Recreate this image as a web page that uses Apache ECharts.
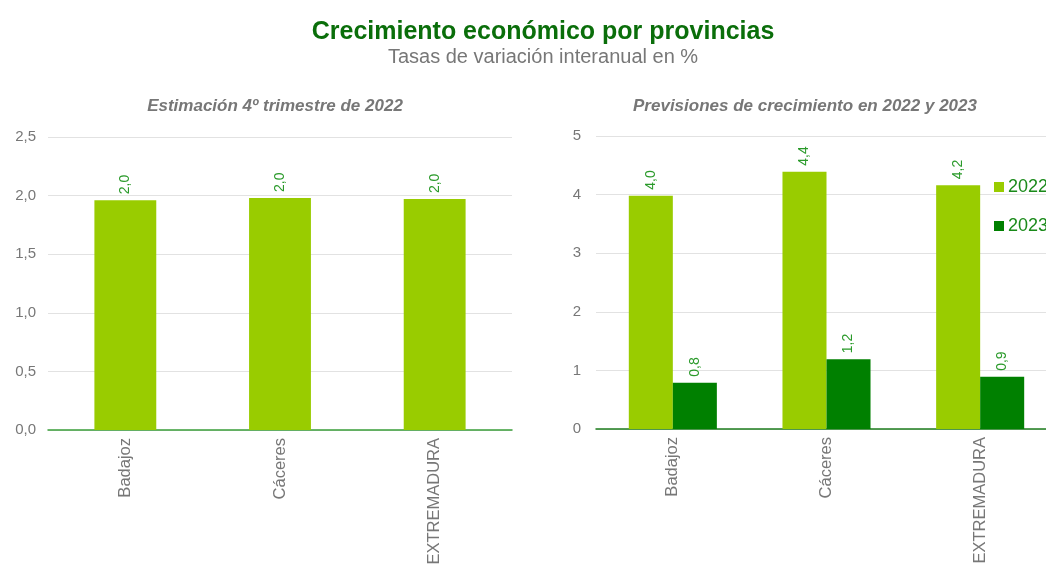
<!DOCTYPE html>
<html><head><meta charset="utf-8">
<script src="https://cdn.jsdelivr.net/npm/echarts@6/dist/echarts.min.js"></script>
<style>html,body{margin:0;padding:0;background:#fff}#c{width:1046px;height:570px}</style>
</head><body><div id="c"></div>
<script>
const categories = ['Badajoz', 'Cáceres', 'EXTREMADURA'];
const q4_2022 = [1.96, 1.98, 1.97];
const forecast2022 = [3.98, 4.39, 4.16];
const forecast2023 = [0.79, 1.19, 0.89];
const leftTicks = [0, 0.5, 1, 1.5, 2, 2.5];
const rightTicks = [0, 1, 2, 3, 4, 5];

const fmt1 = v => v.toFixed(1).replace('.', ',');
const sans = 'Liberation Sans, Arial, sans-serif';
const lblStyle = {
  show: true, position: 'top', rotate: 90, align: 'left', verticalAlign: 'middle',
  distance: 6, color: '#2a9a2a', fontSize: 14, fontFamily: sans,
  formatter: p => fmt1(p.value)
};
const chart = echarts.init(document.getElementById('c'));
chart.setOption({
  animation: false,
  title: [
    { text: 'Crecimiento económico por provincias', left: 538, top: 15, textAlign: 'center',
      textStyle: { color: '#0a6e0a', fontSize: 25, fontWeight: 'bold', fontFamily: sans } },
    { text: 'Tasas de variación interanual en %', left: 538, top: 42, textAlign: 'center',
      textStyle: { color: '#777', fontSize: 20, fontWeight: 'normal', fontFamily: sans } },
    { text: 'Estimación 4º trimestre de 2022', left: 270, top: 93, textAlign: 'center',
      textStyle: { color: '#777', fontSize: 17, fontWeight: 'bold', fontStyle: 'italic', fontFamily: sans } },
    { text: 'Previsiones de crecimiento en 2022 y 2023', left: 800, top: 93, textAlign: 'center',
      textStyle: { color: '#777', fontSize: 17, fontWeight: 'bold', fontStyle: 'italic', fontFamily: sans } }
  ],
  legend: {
    data: ['2022', '2023'], orient: 'vertical', left: 989, top: 173, itemGap: 21,
    itemWidth: 10, itemHeight: 10, icon: 'rect',
    textStyle: { color: '#1a8a1a', fontSize: 18, fontFamily: sans, padding: [0, 0, 0, -1] }
  },
  grid: [
    { left: 48, top: 137, width: 464, height: 293, outerBoundsMode: 'none' },
    { left: 596, top: 136, width: 461, height: 293, outerBoundsMode: 'none' }
  ],
  xAxis: [0, 1].map(i => ({
    type: 'category', gridIndex: i, data: categories,
    axisLine: { lineStyle: { color: i === 0 ? '#3a9e3a' : '#1e7e1e', width: 1.5 } },
    axisTick: { show: false },
    axisLabel: { rotate: 90, color: '#777', fontSize: 16.5, margin: 8, fontFamily: sans }
  })),
  yAxis: [
    { type: 'value', gridIndex: 0, min: leftTicks[0], max: leftTicks[leftTicks.length - 1], interval: 0.5,
      axisLine: { show: false }, axisTick: { show: false },
      splitLine: { lineStyle: { color: '#e2e2e2' } },
      axisLabel: { color: '#777', fontSize: 15, margin: 12, formatter: v => fmt1(v), fontFamily: sans } },
    { type: 'value', gridIndex: 1, min: rightTicks[0], max: rightTicks[rightTicks.length - 1], interval: 1,
      axisLine: { show: false }, axisTick: { show: false },
      splitLine: { lineStyle: { color: '#e2e2e2' } },
      axisLabel: { color: '#777', fontSize: 15, margin: 15, fontFamily: sans } }
  ],
  series: [
    { type: 'bar', name: 'q4', xAxisIndex: 0, yAxisIndex: 0, data: q4_2022, barWidth: '40%',
      itemStyle: { color: '#99cc00' }, label: lblStyle },
    { type: 'bar', name: '2022', xAxisIndex: 1, yAxisIndex: 1, data: forecast2022, barGap: '0%', barCategoryGap: '42.7%',
      itemStyle: { color: '#99cc00' }, label: lblStyle },
    { type: 'bar', name: '2023', xAxisIndex: 1, yAxisIndex: 1, data: forecast2023, barGap: '0%', barCategoryGap: '42.7%',
      itemStyle: { color: '#008000' }, label: lblStyle }
  ]
});
</script></body></html>
